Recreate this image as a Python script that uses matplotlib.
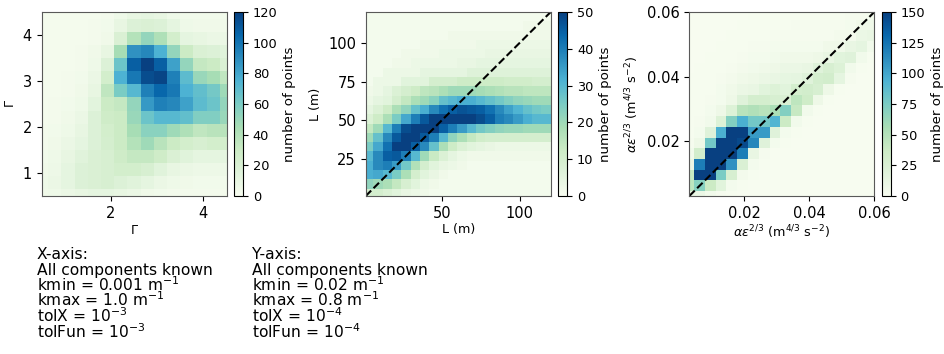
import numpy as np
import matplotlib
matplotlib.use("Agg")
import matplotlib.pyplot as plt

# ---- panel 1: Gamma vs Gamma (counts, rows = y bins bottom->top) ----
gamma_edges = np.linspace(0.36, 4.64, 16)
gamma_counts = [
    [5, 6, 8, 10, 12, 12, 10, 8, 5, 4, 3, 3, 3, 3, 3],
    [6, 8, 12, 18, 20, 22, 18, 15, 12, 8, 6, 5, 4, 4, 4],
    [5, 7, 12, 18, 20, 22, 25, 25, 22, 15, 10, 8, 7, 7, 7],
    [4, 6, 10, 15, 20, 22, 28, 33, 33, 28, 20, 15, 12, 12, 12],
    [3, 5, 8, 12, 18, 24, 30, 40, 48, 38, 30, 25, 22, 25, 25],
    [3, 4, 6, 10, 18, 25, 30, 45, 55, 55, 48, 42, 35, 38, 38],
    [2, 3, 5, 8, 18, 28, 30, 50, 65, 72, 72, 68, 58, 58, 50],
    [2, 3, 4, 6, 14, 30, 33, 52, 85, 95, 92, 82, 70, 65, 52],
    [2, 2, 3, 5, 10, 35, 60, 72, 95, 105, 98, 75, 68, 62, 48],
    [2, 2, 3, 4, 8, 25, 75, 98, 115, 118, 95, 70, 50, 45, 35],
    [2, 2, 2, 3, 6, 18, 65, 108, 120, 108, 82, 52, 33, 30, 20],
    [2, 2, 2, 3, 5, 10, 45, 88, 92, 75, 52, 30, 20, 18, 15],
    [2, 2, 2, 2, 3, 5, 20, 40, 52, 42, 25, 12, 10, 8, 8],
    [2, 2, 2, 2, 3, 4, 10, 18, 20, 18, 12, 6, 5, 5, 5],
    [2, 2, 2, 2, 2, 3, 6, 10, 12, 10, 6, 4, 4, 4, 4],
]

# ---- panel 2: L vs L ----
L_edges = np.linspace(0, 120, 21)
L_counts = [
    [10, 10, 8, 6, 4, 3, 2, 1, 1, 1, 1, 1, 1, 1, 1, 1, 1, 1, 1, 1],
    [22, 20, 18, 14, 9, 6, 3, 2, 1, 1, 1, 1, 1, 1, 1, 1, 1, 1, 1, 1],
    [32, 33, 30, 25, 18, 10, 6, 4, 2, 1, 1, 1, 1, 1, 1, 1, 1, 1, 1, 1],
    [32, 38, 40, 35, 26, 17, 10, 6, 4, 3, 2, 1, 1, 1, 1, 1, 1, 1, 1, 1],
    [30, 38, 45, 46, 40, 30, 20, 13, 8, 5, 3, 2, 2, 2, 2, 2, 2, 2, 2, 2],
    [25, 33, 42, 50, 50, 45, 38, 28, 18, 12, 8, 6, 5, 4, 3, 3, 3, 3, 3, 3],
    [20, 28, 38, 46, 50, 52, 46, 40, 30, 22, 18, 14, 11, 10, 10, 10, 10, 10, 10, 10],
    [14, 20, 30, 40, 48, 52, 52, 50, 45, 40, 35, 30, 26, 24, 22, 21, 21, 20, 20, 20],
    [8, 12, 18, 25, 33, 40, 46, 50, 52, 52, 50, 50, 48, 45, 40, 38, 35, 32, 30, 30],
    [5, 8, 12, 18, 22, 28, 32, 38, 42, 45, 47, 46, 45, 42, 38, 34, 31, 28, 26, 25],
    [3, 5, 6, 10, 14, 18, 20, 23, 28, 30, 32, 32, 30, 28, 26, 24, 22, 21, 20, 20],
    [2, 3, 5, 8, 10, 12, 15, 16, 18, 20, 20, 20, 19, 18, 17, 16, 16, 15, 15, 15],
    [1, 3, 3, 3, 6, 6, 6, 10, 10, 10, 12, 12, 12, 12, 12, 11, 11, 11, 10, 10],
    [1, 1, 3, 3, 3, 3, 5, 5, 5, 5, 5, 7, 7, 7, 7, 7, 7, 7, 7, 7],
    [1, 1, 1, 2, 2, 3, 3, 3, 3, 3, 4, 4, 5, 5, 5, 5, 5, 5, 5, 5],
    [1, 1, 1, 1, 2, 2, 2, 2, 3, 3, 3, 3, 3, 4, 4, 4, 4, 4, 4, 4],
    [1, 1, 1, 1, 1, 1, 2, 2, 2, 2, 2, 2, 3, 3, 3, 3, 3, 3, 3, 3],
    [1, 1, 1, 1, 1, 1, 1, 1, 1, 2, 2, 2, 2, 2, 2, 2, 2, 2, 2, 2],
    [1, 1, 1, 1, 1, 1, 1, 1, 1, 1, 1, 1, 1, 1, 1, 1, 1, 2, 2, 2],
    [1, 1, 1, 1, 1, 1, 1, 1, 1, 1, 1, 1, 1, 1, 1, 1, 1, 1, 1, 1],
]

# ---- panel 3: alpha*eps^(2/3) vs alpha*eps^(2/3) ----
ae_edges = np.linspace(0.00118, 0.06094, 19)
ae_counts = [
    [12, 10, 5, 2, 1, 0, 0, 0, 0, 0, 0, 0, 0, 0, 0, 0, 0, 0],
    [45, 70, 38, 18, 3, 1, 0, 0, 0, 0, 0, 0, 0, 0, 0, 0, 0, 0],
    [40, 160, 160, 75, 28, 4, 1, 0, 0, 0, 0, 0, 0, 0, 0, 0, 0, 0],
    [10, 120, 160, 160, 110, 25, 3, 1, 0, 0, 0, 0, 0, 0, 0, 0, 0, 0],
    [5, 32, 160, 160, 160, 120, 12, 2, 0, 0, 0, 0, 0, 0, 0, 0, 0, 0],
    [2, 8, 78, 160, 160, 145, 115, 20, 3, 1, 0, 0, 0, 0, 0, 0, 0, 0],
    [1, 3, 20, 95, 160, 160, 105, 105, 20, 3, 1, 0, 0, 0, 0, 0, 0, 0],
    [1, 2, 5, 22, 72, 95, 78, 78, 92, 38, 5, 1, 0, 0, 0, 0, 0, 0],
    [1, 1, 3, 8, 22, 48, 52, 48, 55, 72, 40, 5, 1, 0, 0, 0, 0, 0],
    [1, 1, 2, 3, 8, 20, 30, 30, 28, 25, 45, 35, 8, 1, 0, 0, 0, 0],
    [1, 1, 1, 3, 6, 10, 12, 18, 22, 18, 30, 32, 28, 8, 1, 0, 0, 0],
    [1, 1, 1, 2, 4, 6, 8, 10, 12, 14, 15, 20, 30, 32, 15, 2, 0, 0],
    [0, 1, 1, 1, 2, 4, 5, 6, 8, 10, 10, 12, 20, 28, 22, 5, 1, 0],
    [0, 0, 1, 1, 1, 2, 3, 3, 5, 6, 6, 6, 8, 12, 18, 20, 5, 1],
    [0, 0, 0, 1, 1, 1, 2, 2, 3, 3, 3, 3, 3, 6, 6, 12, 15, 5],
    [0, 0, 0, 0, 1, 1, 1, 1, 2, 2, 2, 2, 2, 2, 4, 4, 10, 12],
    [0, 0, 0, 0, 0, 1, 1, 1, 1, 1, 2, 2, 2, 2, 2, 3, 6, 6],
    [0, 0, 0, 0, 0, 0, 1, 1, 1, 1, 1, 1, 1, 1, 1, 2, 2, 3],
]

x_notes = ["X-axis:", "All components known", "kmin = 0.001 m$^{-1}$",
           "kmax = 1.0 m$^{-1}$", "tolX = 10$^{-3}$", "tolFun = 10$^{-3}$"]
y_notes = ["Y-axis:", "All components known", "kmin = 0.02 m$^{-1}$",
           "kmax = 0.8 m$^{-1}$", "tolX = 10$^{-4}$", "tolFun = 10$^{-4}$"]

W, H = 944, 354
fig = plt.figure(figsize=(W / 100, H / 100), dpi=100)


def px_axes(left, top, width, height):
    return fig.add_axes([left / W, 1 - (top + height) / H, width / W, height / H])


panels = [
    dict(edges=gamma_edges, counts=gamma_counts, vmax=120, lim=(0.5, 4.5),
         xt=[2, 4], yt=[1, 2, 3, 4], cbt=[0, 20, 40, 60, 80, 100, 120],
         label=r"$\Gamma$", diag=False, left=41.5),
    dict(edges=L_edges, counts=L_counts, vmax=50, lim=(1.2, 120),
         xt=[50, 100], yt=[25, 50, 75, 100], cbt=[0, 10, 20, 30, 40, 50],
         label="L (m)", diag=True, left=365.7),
    dict(edges=ae_edges, counts=ae_counts, vmax=150, lim=(0.003, 0.06),
         xt=[0.02, 0.04, 0.06], yt=[0.02, 0.04, 0.06],
         cbt=[0, 25, 50, 75, 100, 125, 150],
         label=r"$\alpha\epsilon^{2/3}$ (m$^{4/3}$ s$^{-2}$)", diag=True, left=689.3),
]

for p in panels:
    ax = px_axes(p["left"], 12, 185, 184)
    cax = px_axes(p["left"] + 192.5, 12, 9, 184)
    mesh = ax.pcolormesh(p["edges"], p["edges"], np.array(p["counts"]),
                         cmap="GnBu", vmin=0, vmax=p["vmax"])
    if p["diag"]:
        ax.plot(p["lim"], p["lim"], "k--", lw=1.5)
    ax.set_xlim(p["lim"])
    ax.set_ylim(p["lim"])
    ax.set_xticks(p["xt"])
    ax.set_yticks(p["yt"])
    ax.tick_params(labelsize=10.5)
    ax.set_xlabel(p["label"], fontsize=9.2, labelpad=2)
    ax.set_ylabel(p["label"], fontsize=9.2)
    for s in ax.spines.values():
        s.set_color("0.35")
    cb = fig.colorbar(mesh, cax=cax)
    cb.set_ticks(p["cbt"])
    cb.ax.tick_params(labelsize=9.3)
    cb.set_label("number of points", fontsize=9.6)

# parameter notes below the panels
for i, (tx, ty) in enumerate(zip(x_notes, y_notes)):
    yb = 1 - (259.3 + 15.7 * i) / H
    fig.text(37 / W, yb, tx, fontsize=11.2, va="baseline")
    fig.text(252 / W, yb, ty, fontsize=11.2, va="baseline")

fig.savefig("out.png", dpi=100)
